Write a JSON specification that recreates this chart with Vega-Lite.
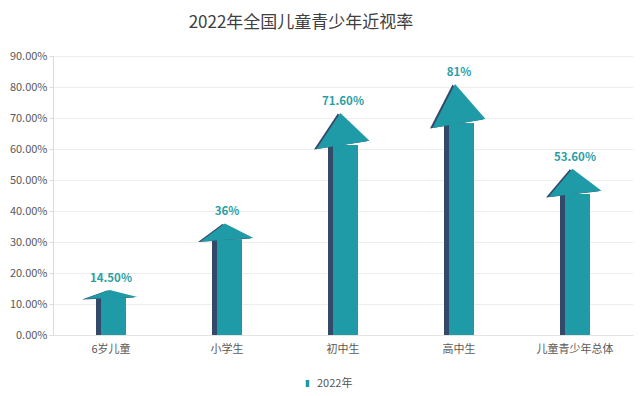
{
  "$schema": "https://vega.github.io/schema/vega-lite/v6.json",
  "width": 580,
  "height": 279,
  "autosize": {"type": "none"},
  "padding": {"left": 53, "top": 56, "right": 7, "bottom": 61},
  "title": {"text": "2022年全国儿童青少年近视率", "fontSize": 17, "fontWeight": "normal", "color": "#404040", "font": "Noto Sans CJK SC", "anchor": "middle", "dx": -42, "offset": 18},
  "config": {"font": "Noto Sans CJK SC", "view": {"stroke": null}},
  "data": {"values": [
    {"group": "6岁儿童", "rate": 0.145, "shoulder": 0.122, "label": "14.50%", "year": "2022年"},
    {"group": "小学生", "rate": 0.36, "shoulder": 0.308, "label": "36%", "year": "2022年"},
    {"group": "初中生", "rate": 0.716, "shoulder": 0.613, "label": "71.60%", "year": "2022年"},
    {"group": "高中生", "rate": 0.81, "shoulder": 0.683, "label": "81%", "year": "2022年"},
    {"group": "儿童青少年总体", "rate": 0.536, "shoulder": 0.455, "label": "53.60%", "year": "2022年"}
  ]},
  "encoding": {
    "x": {"field": "group", "type": "nominal", "sort": null, "title": null,
      "scale": {"paddingInner": 0, "paddingOuter": 0},
      "axis": {"labelAngle": 0, "ticks": false, "domain": true, "domainColor": "#e3e3e3", "labelColor": "#595959", "labelFontSize": 11, "labelPadding": 8}},
    "y": {"field": "rate", "type": "quantitative", "title": null,
      "scale": {"domain": [0, 0.9]},
      "axis": {"format": ".2%", "values": [0, 0.1, 0.2, 0.3, 0.4, 0.5, 0.6, 0.7, 0.8, 0.9], "tickCount": 10, "labelOverlap": false, "grid": true, "gridColor": "#eeeeee", "domainColor": "#dcdcdc", "tickColor": "#dcdcdc", "tickSize": 4, "labelColor": "#595959", "labelFontSize": 11, "labelPadding": 2}}
  },
  "layer": [
    {
      "mark": {"type": "bar", "size": 30, "color": "#34496a"},
      "encoding": {
        "y": {"field": "shoulder", "type": "quantitative", "title": null,
          "scale": {"domain": [0, 0.9]},
          "axis": {"format": ".2%", "values": [0, 0.1, 0.2, 0.3, 0.4, 0.5, 0.6, 0.7, 0.8, 0.9], "tickCount": 10, "labelOverlap": false, "grid": true, "gridColor": "#eeeeee", "domainColor": "#dcdcdc", "tickColor": "#dcdcdc", "tickSize": 4, "labelColor": "#595959", "labelFontSize": 11, "labelPadding": 2}}
      }
    },
    {
      "mark": {"type": "point", "filled": true, "opacity": 1, "size": 2809, "color": "#34496a", "xOffset": -2.5, "yOffset": 0.5, "strokeWidth": 0},
      "encoding": {
        "shape": {"field": "group", "type": "nominal", "legend": null,
          "scale": {"domain": ["6岁儿童", "小学生", "初中生", "高中生", "儿童青少年总体"],
            "range": ["M-1,0.34L-0.05,0L1,0.26Z", "M-1,0.68L-0.08,0L1,0.55Z", "M-1,1.36L-0.1,0L1,1.05Z", "M-1,1.66L-0.15,0L1,1.32Z", "M-1,1.06L-0.1,0L1,0.83Z"]}}
      }
    },
    {
      "mark": {"type": "bar", "size": 25, "xOffset": 2.5},
      "encoding": {
        "y": {"field": "shoulder", "type": "quantitative", "title": null,
          "scale": {"domain": [0, 0.9]},
          "axis": {"format": ".2%", "values": [0, 0.1, 0.2, 0.3, 0.4, 0.5, 0.6, 0.7, 0.8, 0.9], "tickCount": 10, "labelOverlap": false, "grid": true, "gridColor": "#eeeeee", "domainColor": "#dcdcdc", "tickColor": "#dcdcdc", "tickSize": 4, "labelColor": "#595959", "labelFontSize": 11, "labelPadding": 2}},
        "color": {"field": "year", "type": "nominal", "scale": {"range": ["#1e9ba6"]},
          "legend": {"orient": "none", "legendX": 249, "legendY": 322, "title": null, "symbolType": "M-0.5,-1H0.5V1H-0.5Z", "symbolSize": 50, "labelFontSize": 11, "labelColor": "#555555"}}
      }
    },
    {
      "mark": {"type": "point", "filled": true, "opacity": 1, "size": 2809, "color": "#1e9ba6", "strokeWidth": 0},
      "encoding": {
        "shape": {"field": "group", "type": "nominal", "legend": null}
      }
    },
    {
      "mark": {"type": "text", "dy": -8, "baseline": "alphabetic", "fontWeight": "bold", "fontSize": 11.5, "color": "#2a9fa5"},
      "encoding": {
        "text": {"field": "label"}
      }
    }
  ]
}
